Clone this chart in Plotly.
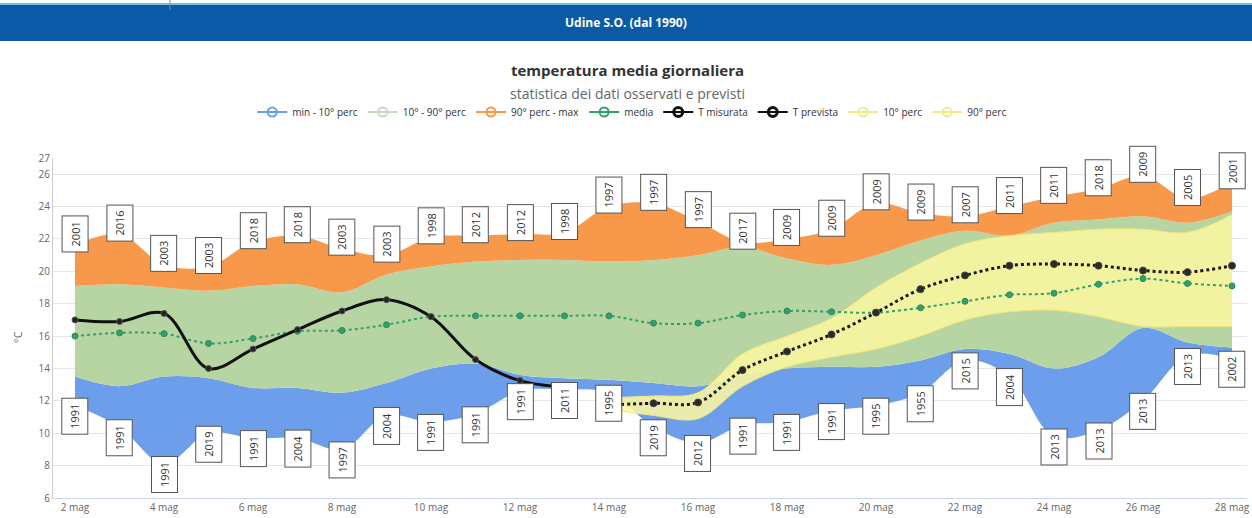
import plotly.graph_objects as go

# ---------------- data ----------------
days = [2, 3, 4, 5, 6, 7, 8, 9, 10, 11, 12, 13, 14, 15, 16, 17, 18, 19, 20,
        21, 22, 23, 24, 25, 26, 27, 28]
clim_min = [11.7, 10.4, 8.1, 10.0, 9.7, 9.7, 9.0, 11.1, 10.7, 11.2, 12.6, 12.7, 12.5,
            10.4, 9.4, 10.5, 10.7, 11.4, 11.7, 12.5, 14.5, 13.5, 9.8, 10.2, 12.0, 14.8, 14.6]
clim_p10 = [13.5, 12.9, 13.5, 13.4, 12.8, 12.8, 12.5, 13.1, 14.0, 14.3, 13.6, 13.4, 13.3,
            13.1, 12.9, 13.6, 14.0, 14.1, 14.1, 14.5, 15.2, 14.9, 14.0, 14.7, 16.5, 15.6, 15.3]
clim_p90 = [19.1, 19.2, 19.0, 18.8, 19.1, 19.2, 18.7, 19.8, 20.3, 20.6, 20.7, 20.7, 20.6,
            20.7, 21.0, 21.5, 20.8, 20.4, 21.0, 21.9, 22.5, 22.2, 23.0, 23.2, 23.4, 23.0, 23.7]
clim_max = [21.6, 22.3, 20.4, 20.3, 21.8, 22.2, 21.4, 21.0, 22.1, 22.2, 22.3, 22.4, 24.0,
            24.2, 23.1, 21.8, 22.0, 22.6, 24.2, 23.6, 23.4, 24.0, 24.6, 25.1, 25.9, 24.5, 25.5]
clim_mean = [16.0, 16.2, 16.15, 15.55, 15.85, 16.3, 16.35, 16.7, 17.2, 17.25, 17.25, 17.25, 17.25,
             16.8, 16.8, 17.3, 17.55, 17.5, 17.45, 17.75, 18.15, 18.55, 18.65, 19.2, 19.55, 19.25, 19.1]
year_max = ["2001", "2016", "2003", "2003", "2018", "2018", "2003", "2003", "1998", "2012",
            "2012", "1998", "1997", "1997", "1997", "2017", "2009", "2009", "2009", "2009",
            "2007", "2011", "2011", "2018", "2009", "2005", "2001"]
year_min = ["1991", "1991", "1991", "2019", "1991", "2004", "1997", "2004", "1991", "1991",
            "1991", "2011", "1995", "2019", "2012", "1991", "1991", "1991", "1995", "1955",
            "2015", "2004", "2013", "2013", "2013", "2013", "2002"]

meas_days = [2, 3, 4, 5, 6, 7, 8, 9, 10, 11, 12, 13]
t_measured = [17.0, 16.9, 17.4, 14.0, 15.2, 16.4, 17.55, 18.25, 17.2, 14.55, 13.25, 12.85]

fc_days = [14, 15, 16, 17, 18, 19, 20, 21, 22, 23, 24, 25, 26, 27, 28]
t_forecast = [11.75, 11.85, 11.9, 13.9, 15.05, 16.1, 17.45, 18.9, 19.75, 20.35, 20.45,
              20.35, 20.05, 19.95, 20.35]
fc_p10 = [11.5, 11.1, 10.9, 12.9, 14.1, 14.7, 15.2, 16.0, 17.0, 17.5, 17.6, 17.2, 16.6, 16.6, 16.6]
fc_p90 = [12.2, 12.3, 12.5, 14.9, 16.0, 17.1, 19.0, 20.5, 21.7, 22.2, 22.4, 22.6, 22.6, 22.4, 23.5]

tick_days = [2, 4, 6, 8, 10, 12, 14, 16, 18, 20, 22, 24, 26, 28]
tick_labels = ["2 mag", "4 mag", "6 mag", "8 mag", "10 mag", "12 mag", "14 mag",
               "16 mag", "18 mag", "20 mag", "22 mag", "24 mag", "26 mag", "28 mag"]
y_ticks = [6, 8, 10, 12, 14, 16, 18, 20, 22, 24, 26, 27]

# ---------------- styles ----------------
C_BLUE = "#6d9eeb"
C_GREEN = "#b7d5a3"
C_ORANGE = "#f7984a"
C_YELLOW = "rgba(250,247,160,0.88)"
C_YELLOW_LINE = "#f2e77a"
C_MEDIA = "#33a06c"
FONT = "Open Sans"

W, H = 1252, 518
PL, PR, PT, PB = 53, 1247, 158, 498


def px(x):
    return (x - PL) / (PR - PL)


def py(y):
    return (PB - y) / (PB - PT)


fig = go.Figure()

def band(x, lo, hi, color, name):
    fig.add_trace(go.Scatter(x=x, y=lo, mode="lines", line=dict(width=0, shape="spline"),
                             hoverinfo="skip", showlegend=False))
    fig.add_trace(go.Scatter(x=x, y=hi, mode="lines", line=dict(width=0, shape="spline"),
                             fill="tonexty", fillcolor=color, name=name, showlegend=False))

band(days, clim_min, clim_p10, C_BLUE, "min - 10° perc")
band(days, clim_p10, clim_p90, C_GREEN, "10° - 90° perc")
band(days, clim_p90, clim_max, C_ORANGE, "90° perc - max")

# forecast band
fig.add_trace(go.Scatter(x=fc_days, y=fc_p10, mode="lines",
                         line=dict(width=1, color=C_YELLOW_LINE, shape="spline"),
                         showlegend=False))
fig.add_trace(go.Scatter(x=fc_days, y=fc_p90, mode="lines",
                         line=dict(width=1, color=C_YELLOW_LINE, shape="spline"),
                         fill="tonexty", fillcolor=C_YELLOW, showlegend=False))

# media
fig.add_trace(go.Scatter(x=days, y=clim_mean, mode="lines+markers",
                         line=dict(color=C_MEDIA, width=2, dash="dot", shape="spline"),
                         marker=dict(size=6, color=C_MEDIA, line=dict(color="#2a8a5b", width=1)),
                         showlegend=False))
# T misurata
fig.add_trace(go.Scatter(x=meas_days, y=t_measured, mode="lines+markers",
                         line=dict(color="#111111", width=3, shape="spline"),
                         marker=dict(size=6, color="#222222", line=dict(color="#555555", width=1)),
                         showlegend=False))
# T prevista
fig.add_trace(go.Scatter(x=fc_days, y=t_forecast, mode="lines+markers",
                         line=dict(color="#1a1a1a", width=3, dash="dot", shape="spline"),
                         marker=dict(size=7, color="#2a2a2a", line=dict(color="#444444", width=1)),
                         showlegend=False))

# legend entries (Highcharts-like line + hollow circle)
legend_items = [("min - 10° perc", C_BLUE, 2), ("10° - 90° perc", "#c5dcc0", 2),
                ("90° perc - max", C_ORANGE, 2), ("media", C_MEDIA, 2),
                ("T misurata", "#111111", 3), ("T prevista", "#111111", 3),
                ("10° perc", "#f4ea8c", 2), ("90° perc", "#f4ea8c", 2)]
for name, col, lw in legend_items:
    fig.add_trace(go.Scatter(x=[None], y=[None], mode="lines+markers", name=name,
                             line=dict(color=col, width=2),
                             marker=dict(symbol="circle-open", size=9, color=col,
                                         line=dict(width=lw, color=col))))

annotations = []
for d, v, yr in zip(days, clim_max, year_max):
    annotations.append(dict(x=d, y=v, xref="x", yref="y", text=yr, showarrow=False,
                            textangle=-90, yanchor="middle", xanchor="center", yshift=11,
                            font=dict(family=FONT, size=11, color="#333333"),
                            bgcolor="white", bordercolor="#555555", borderwidth=1, borderpad=5))
for d, v, yr in zip(days, clim_min, year_min):
    annotations.append(dict(x=d, y=v, xref="x", yref="y", text=yr, showarrow=False,
                            textangle=-90, yanchor="middle", xanchor="center", yshift=-11,
                            font=dict(family=FONT, size=11, color="#333333"),
                            bgcolor="white", bordercolor="#555555", borderwidth=1, borderpad=5))

annotations += [
    dict(x=px(626), y=py(22), xref="paper", yref="paper", showarrow=False,
         text="<b>Udine S.O. (dal 1990)</b>", font=dict(family=FONT, size=12, color="white"),
         xanchor="center", yanchor="middle"),
    dict(x=px(627), y=py(70), xref="paper", yref="paper", showarrow=False,
         text="<b>temperatura media giornaliera</b>", font=dict(family=FONT, size=15, color="#333333"),
         xanchor="center", yanchor="middle"),
    dict(x=px(627), y=py(93), xref="paper", yref="paper", showarrow=False,
         text="statistica dei dati osservati e previsti", font=dict(family=FONT, size=14, color="#666666"),
         xanchor="center", yanchor="middle"),
    dict(x=px(17), y=py(337), xref="paper", yref="paper", showarrow=False, textangle=-90,
         text="°C", font=dict(family=FONT, size=11, color="#666666"),
         xanchor="center", yanchor="middle"),
]

shapes = [
    dict(type="rect", xref="paper", yref="paper", x0=px(0), x1=px(W), y0=py(41), y1=py(5),
         fillcolor="#0b5aa6", line=dict(width=0), layer="below"),
    dict(type="rect", xref="paper", yref="paper", x0=px(0), x1=px(W), y0=py(5), y1=py(3),
         fillcolor="#7fbde9", line=dict(width=0), layer="below"),
    dict(type="line", xref="paper", yref="paper", x0=px(170), x1=px(170), y0=py(10), y1=py(0),
         line=dict(color="#888888", width=1)),
]

fig.update_layout(
    width=W, height=H,
    margin=dict(l=PL, r=W - PR, t=PT, b=H - PB, autoexpand=False),
    paper_bgcolor="white", plot_bgcolor="white",
    font=dict(family=FONT, color="#666666"),
    showlegend=True,
    legend=dict(orientation="h", xref="container", yref="container", x=0.505, y=1 - 112 / H,
                xanchor="center", yanchor="middle", font=dict(family=FONT, size=10, color="#333333"),
                itemwidth=30, bgcolor="rgba(0,0,0,0)", traceorder="normal"),
    annotations=annotations,
    shapes=shapes,
    hovermode=False,
)
fig.update_xaxes(range=[1.5056, 28.337], tickvals=tick_days, ticktext=tick_labels,
                 showgrid=False, zeroline=False, showline=True, linecolor="#ccd6eb",
                 tickfont=dict(family=FONT, size=10, color="#666666"), ticks="", automargin=False)
fig.update_yaxes(range=[6, 27], tickvals=y_ticks, ticktext=[str(v) for v in y_ticks],
                 showgrid=True, gridcolor="#e6e6e6", zeroline=False, showline=True,
                 linecolor="#cccccc", tickfont=dict(family=FONT, size=10, color="#666666"),
                 ticks="", automargin=False)

fig.write_html("out.html", config={"displayModeBar": False},
               post_script="document.body.style.margin='0px';")
